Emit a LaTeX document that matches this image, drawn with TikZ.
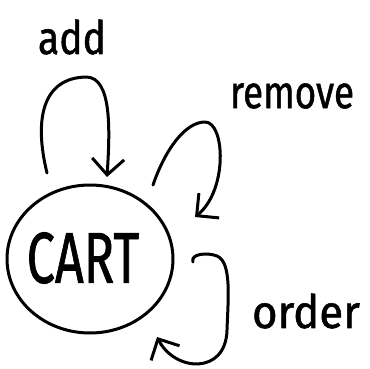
\documentclass[tikz,border=0pt]{standalone}
\usepackage{fontspec}
\usepackage{graphicx}
\setmainfont{Fira Sans}
\newfontfamily\hand{Fira Sans}[FakeBold=1.2]
\usetikzlibrary{arrows.meta,shapes.geometric}
\begin{document}
\begin{tikzpicture}[x=1pt,y=-1pt,
  stroke/.style={line width=3pt,line cap=round,line join=round},
  loop/.style={stroke,-{Straight Barb[length=16pt,width=32pt,line width=3pt]}},
  lbl/.style={inner sep=0pt,font=\hand\fontsize{46}{46}\selectfont}]
\useasboundingbox (0,0) rectangle (369,369);
\node[stroke,draw,ellipse,minimum width=166pt,minimum height=148pt,inner sep=0pt] (cart) at (90,259) {};
\node[inner sep=0pt,font=\hand\fontsize{72}{72}\selectfont] (carttext) at (83,258) {\scalebox{0.7}[1]{CART}};
\node[lbl] (add) at (72,37) {\scalebox{0.85}[1]{add}};
\node[lbl] (remove) at (292,96) {\scalebox{0.8}[1]{remove}};
\node[lbl] (order) at (306,311) {\scalebox{0.95}[1]{order}};
% add loop
\coordinate (a1) at (47,173);
\coordinate (at) at (86,77);
\coordinate (a2) at (107,177);
\draw[loop] (a1) .. controls (34,120) and (42,78) .. (at)
  .. controls (112,77) and (110,130) .. (a2);
% remove loop
\coordinate (r1) at (153,185);
\coordinate (rt) at (205,122);
\coordinate (r2) at (195,217);
\draw[loop] (r1) .. controls (165,150) and (185,122) .. (rt)
  .. controls (225,122) and (228,190) .. (r2);
% order loop
\coordinate (o1) at (193,262);
\coordinate (ot) at (217,256);
\coordinate (or) at (227,330);
\coordinate (o2) at (157,337);
\draw[loop] (o1) .. controls (190,254) and (207,252) .. (ot)
  .. controls (232,262) and (228,300) .. (or)
  .. controls (226,375) and (175,372) .. (o2);
\end{tikzpicture}
\end{document}
